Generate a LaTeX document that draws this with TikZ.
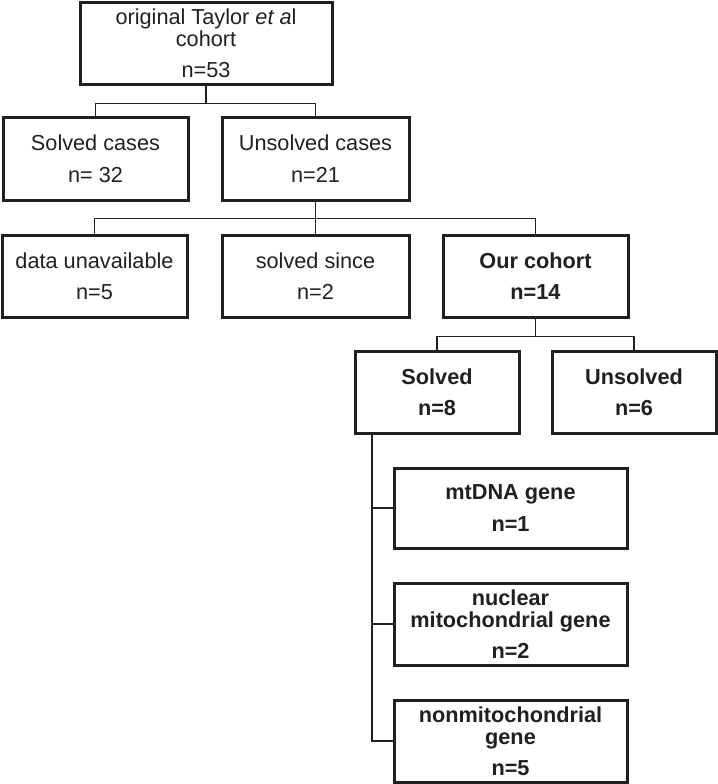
\documentclass[tikz,border=0pt]{standalone}
\usepackage{fontspec}
\setmainfont{Liberation Sans}
\definecolor{ink}{HTML}{231F20}
\begin{document}
\begin{tikzpicture}[x=0.5pt,y=-0.5pt,
    box/.style={draw=ink,line width=1.5pt,rectangle,inner sep=0pt,align=center,text=ink,
      font=\fontsize{10.85pt}{11pt}\selectfont},
    boldbox/.style={box,font=\fontsize{10.85pt}{11pt}\selectfont\bfseries},
    link/.style={draw=ink,line width=0.8pt}]
      \useasboundingbox (0,0) rectangle (718,784);
      \node[box,minimum width=126pt,minimum height=41pt] (orig) at (206,43)
        {original Taylor \textit{et a}l\\cohort\\[4.75pt]n=53};
      \node[box,minimum width=92.5pt,minimum height=41.5pt] (sc) at (95.5,158.5) {Solved cases\\[4.75pt]n= 32};
      \node[box,minimum width=93.5pt,minimum height=41.5pt] (uc) at (315.5,158.5) {Unsolved cases\\[4.75pt]n=21};
      \node[box,minimum width=92.5pt,minimum height=41pt] (du) at (94.5,276) {data unavailable\\[4.75pt]n=5};
      \node[box,minimum width=93.5pt,minimum height=41pt] (ss) at (315.5,276) {solved since\\[4.75pt]n=2};
      \node[boldbox,minimum width=92.5pt,minimum height=41pt] (oc) at (535.5,276) {Our cohort\\[4.75pt]n=14};
      \node[boldbox,minimum width=82pt,minimum height=41pt] (sv) at (437,392) {Solved\\[4.75pt]n=8};
      \node[boldbox,minimum width=82pt,minimum height=41pt] (us) at (634,392) {Unsolved\\[4.75pt]n=6};
      \node[boldbox,minimum width=116.5pt,minimum height=40pt] (mt) at (510.5,508) {mtDNA gene\\[4.75pt]n=1};
      \node[boldbox,minimum width=116.5pt,minimum height=41pt] (nuc) at (510.5,624) {nuclear\\mitochondrial gene\\[4.75pt]n=2};
      \node[boldbox,minimum width=116.5pt,minimum height=41pt] (non) at (510.5,741) {nonmitochondrial\\gene\\[4.75pt]n=5};
      \coordinate (spine) at (372,0);
      % tree
      \draw[link] (orig.south) -- ++(0,18) -| (sc.north);
      \draw[link] (orig.south) -- ++(0,18) -| (uc.north);
      \draw[link] (uc.south) -- ++(0,17) -| (du.north);
      \draw[link] (uc.south) -- (ss.north);
      \draw[link] (uc.south) -- ++(0,17) -| (oc.north);
      \draw[link] (oc.south) -- ++(0,18) -| (sv.north);
      \draw[link] (oc.south) -- ++(0,18) -| (us.north);
      \draw[link] (sv.south -| spine) |- (mt.west);
      \draw[link] (sv.south -| spine) |- (nuc.west);
      \draw[link] (sv.south -| spine) |- (non.west);
    \end{tikzpicture}
\end{document}
